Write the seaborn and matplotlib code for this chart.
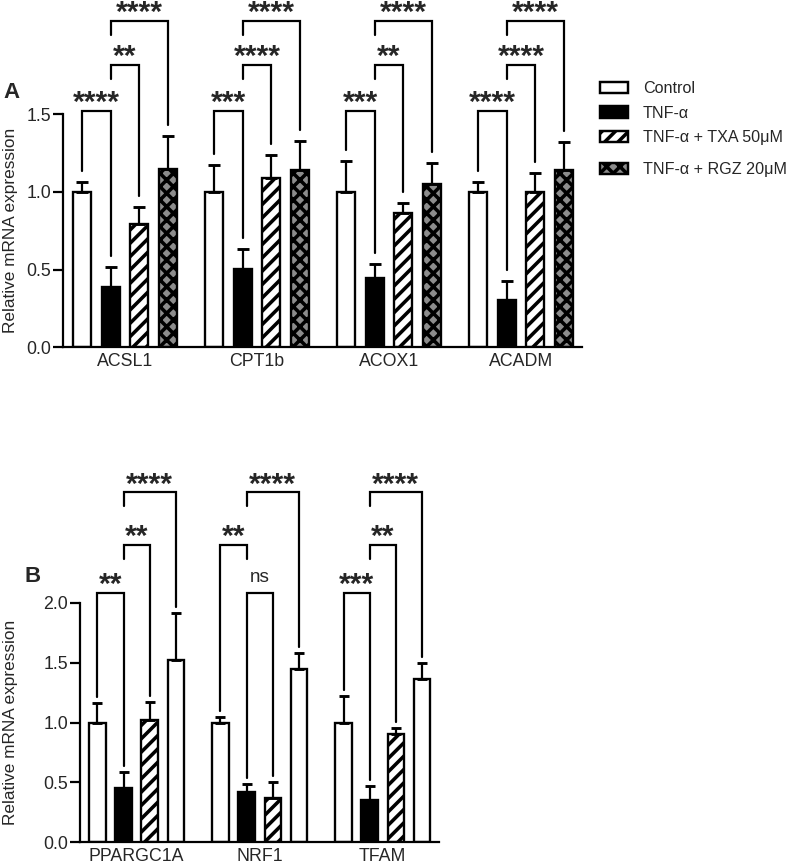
import matplotlib
matplotlib.use('Agg')
import matplotlib.pyplot as plt
from matplotlib.patches import Patch
from matplotlib.ticker import FormatStrFormatter
import numpy as np
import pandas as pd
import seaborn as sns

sns.set_style('ticks')
plt.rcParams['font.family'] = ['Liberation Sans', 'DejaVu Sans']
plt.rcParams['hatch.linewidth'] = 3.2

groups = ['Control', 'TNF-α', 'TNF-α + TXA 50μM', 'TNF-α + RGZ 20μM']

# panel A: fatty acid oxidation genes
genes_a = ['ACSL1', 'CPT1b', 'ACOX1', 'ACADM']
ctrl_a = [1.00, 1.00, 1.00, 1.00]
tnf_a = [0.39, 0.506, 0.445, 0.306]
txa_a = [0.795, 1.09, 0.867, 1.00]
rgz_a = [1.15, 1.14, 1.054, 1.142]
ctrl_a_sd = [0.067, 0.175, 0.20, 0.063]
tnf_a_sd = [0.13, 0.13, 0.09, 0.12]
txa_a_sd = [0.11, 0.15, 0.06, 0.12]
rgz_a_sd = [0.21, 0.185, 0.13, 0.18]
stars_a = [['****', '**', '****'],
           ['***', '****', '****'],
           ['***', '**', '****'],
           ['****', '****', '****']]
rank_a = [[0, 1, 2], [0, 1, 2], [0, 1, 2], [0, 1, 2]]
levels_a = [1.524, 1.82, 2.10]

# panel B: mitochondrial biogenesis genes
genes_b = ['PPARGC1A', 'NRF1', 'TFAM']
ctrl_b = [1.00, 1.00, 0.995]
tnf_b = [0.457, 0.423, 0.356]
txa_b = [1.017, 0.368, 0.90]
rgz_b = [1.518, 1.446, 1.36]
ctrl_b_sd = [0.16, 0.045, 0.223]
tnf_b_sd = [0.133, 0.065, 0.117]
txa_b_sd = [0.154, 0.132, 0.056]
rgz_b_sd = [0.40, 0.134, 0.14]
stars_b = [['**', '**', '****'],
           ['**', 'ns', '****'],
           ['***', '**', '****']]
rank_b = [[0, 1, 2], [1, 0, 2], [0, 1, 2]]
levels_b = [2.08, 2.48, 2.92]

pairs = [(0, 1), (1, 2), (1, 3)]

W, H, DPI = 793, 864, 80
f = plt.figure(figsize=(W / DPI, H / DPI), dpi=DPI)


def make_df(genes, cols):
    rows = []
    for g, vals in zip(groups, cols):
        for gene, v in zip(genes, vals):
            rows.append({'gene': gene, 'group': g, 'value': v})
    return pd.DataFrame(rows)


def panel(ax, genes, means, sds, colors, hatches, stars, ranks, levels,
          ymax, width, xlim, gap_px, capsize):
    df = make_df(genes, means)
    sns.barplot(data=df, x='gene', y='value', hue='group', order=genes,
                hue_order=groups, palette=dict(zip(groups, colors)),
                errorbar=None, width=width, gap=0.37, edgecolor='black',
                linewidth=2.1, legend=False, ax=ax)
    ax.set_xlim(*xlim)
    ax.set_ylim(0, ymax)

    # bar centres and tops of the error bars
    xs = np.zeros((len(groups), len(genes)))
    tops = np.zeros((len(groups), len(genes)))
    for k, cont in enumerate(ax.containers[:len(groups)]):
        for i, bar in enumerate(cont):
            bar.set_hatch(hatches[k])
            if hasattr(bar, 'set_hatch_linewidth'):
                bar.set_hatch_linewidth(3.2)
            xs[k, i] = bar.get_x() + bar.get_width() / 2
            tops[k, i] = bar.get_height() + sds[k][i]
    for k in range(len(groups)):
        ax.errorbar(xs[k], means[k], yerr=[np.zeros(len(genes)), sds[k]],
                    fmt='none', ecolor='black', elinewidth=2.0,
                    capsize=capsize, capthick=2.6, zorder=3)

    px = ymax / (ax.get_position().height * H)
    for i in range(len(genes)):
        for p, (a, b) in enumerate(pairs):
            lev = levels[ranks[i][p]]
            legs = []
            for end in (a, b):
                shared = any(end in pairs[q] and ranks[i][q] < ranks[i][p]
                             for q in range(len(pairs)))
                if shared:
                    legs.append(lev - 14 * px)
                else:
                    legs.append(tops[end, i] + gap_px * px)
            x0, x1 = xs[a, i], xs[b, i]
            ax.plot([x0, x0, x1, x1], [legs[0], lev, lev, legs[1]],
                    color='black', lw=2.0, clip_on=False,
                    solid_joinstyle='miter')
            lab = stars[i][p]
            if lab == 'ns':
                ax.annotate(lab, xy=((x0 + x1) / 2, lev), xytext=(0, 10),
                            textcoords='offset points', ha='center',
                            va='baseline', fontsize=17,
                            annotation_clip=False)
            else:
                ax.annotate(lab, xy=((x0 + x1) / 2, lev), xytext=(0, 0),
                            textcoords='offset points', ha='center',
                            va='baseline', fontsize=27, fontweight='bold',
                            annotation_clip=False)

    ax.set_xlabel('')
    ax.set_ylabel('Relative mRNA expression', fontsize=15.5)
    ax.yaxis.label.set_verticalalignment('center')
    ax.yaxis.set_major_formatter(FormatStrFormatter('%.1f'))
    ax.tick_params(axis='x', length=0, pad=5, labelsize=16)
    ax.tick_params(axis='y', length=9, width=2.0, pad=1.8, labelsize=16,
                   color='black')
    sns.despine(ax=ax)
    for s in ['left', 'bottom']:
        ax.spines[s].set_linewidth(2.0)
        ax.spines[s].set_color('black')


gray = '#8c8c8c'
axA = f.add_axes([63 / W, 1 - 347.3 / H, 519 / W, 233 / H])
panel(axA, genes_a, [ctrl_a, tnf_a, txa_a, rgz_a],
      [ctrl_a_sd, tnf_a_sd, txa_a_sd, rgz_a_sd],
      ['white', 'black', 'white', gray], ['', '', '//', 'xx'],
      stars_a, rank_a, levels_a, 1.5, 0.869, (-0.47, 3.462), 11, 5.2)
axA.set_yticks([0, 0.5, 1.0, 1.5])
axA.yaxis.set_label_coords((10 - 63) / 519, 0.5)

axB = f.add_axes([80 / W, 1 - 842.3 / H, 359 / W, 239.6 / H])
panel(axB, genes_b, [ctrl_b, tnf_b, txa_b, rgz_b],
      [ctrl_b_sd, tnf_b_sd, txa_b_sd, rgz_b_sd],
      ['white', 'black', 'white', 'white'], ['', '', '//', ''],
      stars_b, rank_b, levels_b, 2.0, 0.85, (-0.46, 2.457), 6, 4.4)
axB.set_yticks([0, 0.5, 1.0, 1.5, 2.0])
axB.yaxis.set_label_coords((10 - 80) / 359, 0.5)

handles = [Patch(facecolor=c, edgecolor='black', hatch=h, linewidth=2.2)
           for c, h in zip(['white', 'black', 'white', gray],
                           ['', '', '//', 'xx'])]
leg_kw = dict(loc='upper left', frameon=False, fontsize=14.5,
              handlelength=1.74, handleheight=0.71, handletextpad=0.93,
              labelspacing=0.6, borderpad=0, borderaxespad=0)
f.legend(handles[:3], groups[:3], bbox_to_anchor=(600 / W, 1 - 81 / H),
         **leg_kw)
f.legend(handles[3:], groups[3:], bbox_to_anchor=(600 / W, 1 - 162 / H),
         **leg_kw)

f.text(3 / W, 1 - 92 / H, 'A', fontsize=20, fontweight='bold',
       ha='left', va='center')
f.text(25 / W, 1 - 577 / H, 'B', fontsize=20, fontweight='bold',
       ha='left', va='center')

plt.savefig('out.png', dpi=DPI)
